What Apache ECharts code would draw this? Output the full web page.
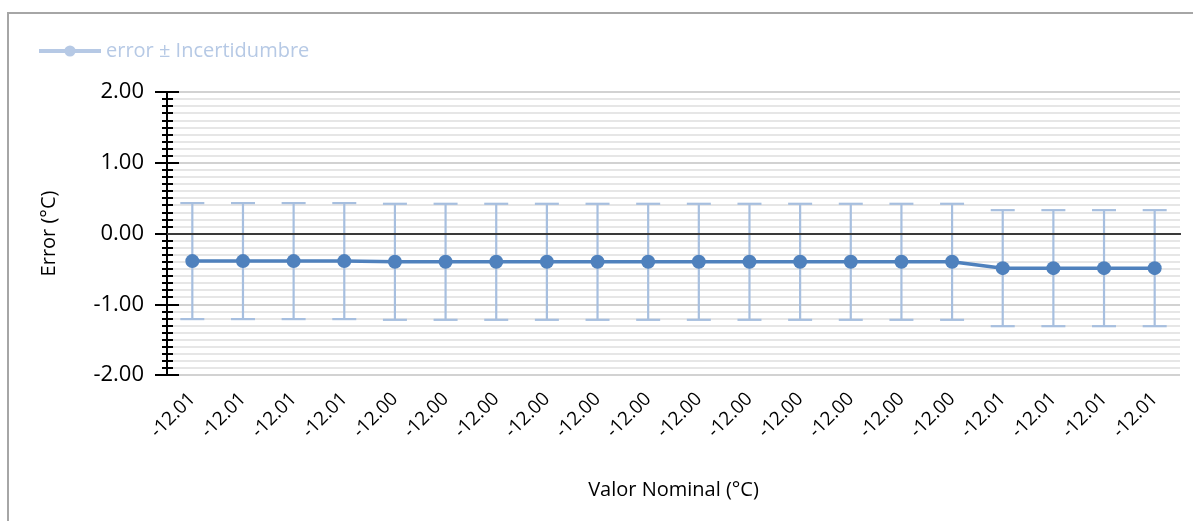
<!DOCTYPE html>
<html>
<head>
<meta charset="utf-8">
<script src="https://cdn.jsdelivr.net/npm/echarts@6/dist/echarts.min.js"></script>
<style>
  html, body {
    margin: 0;
    padding: 0;
    background: #fff;
  }

  #frame {
    position: absolute;
    left: 7px;
    top: 12px;
    width: 1200px;
    height: 520px;
    border-top: 2px solid #a6a6a6;
    border-left: 2px solid #a6a6a6;
  }

  #chart {
    position: absolute;
    left: 0;
    top: 0;
    width: 1193px;
    height: 521px;
  }
</style>
</head>
<body>
<div id="frame"></div>
<div id="chart"></div>
<script>
  // valores nominales (etiquetas del eje x)
  const categories = ['-12.01', '-12.01', '-12.01', '-12.01', '-12.00', '-12.00', '-12.00', '-12.00',
    '-12.00', '-12.00', '-12.00', '-12.00', '-12.00', '-12.00', '-12.00', '-12.00',
    '-12.01', '-12.01', '-12.01', '-12.01'];
  // error medido en cada punto
  const errors = [-0.39, -0.39, -0.39, -0.39, -0.40, -0.40, -0.40, -0.40,
    -0.40, -0.40, -0.40, -0.40, -0.40, -0.40, -0.40, -0.40,
    -0.49, -0.49, -0.49, -0.49];
  // incertidumbre (+/-)
  const uncert = [0.82, 0.82, 0.82, 0.82, 0.82, 0.82, 0.82, 0.82,
    0.82, 0.82, 0.82, 0.82, 0.82, 0.82, 0.82, 0.82,
    0.82, 0.82, 0.82, 0.82];
  const yTicks = [-2, -1, 0, 1, 2];

  const font = '"Open Sans", "Noto Sans", sans-serif';
  const barData = errors.map((v, i) => [i, v - uncert[i], v + uncert[i]]);

  const chart = echarts.init(document.getElementById('chart'));
  chart.setOption({
    animation: false,
    legend: {
      left: 32,
      top: 36,
      itemWidth: 62,
      itemHeight: 14,
      itemGap: 6,
      data: ['error ± Incertidumbre'],
      itemStyle: { color: '#b6c9e5' },
      lineStyle: { color: '#b6c9e5', width: 4 },
      textStyle: { color: '#b6c9e5', fontFamily: font, fontSize: 20 }
    },
    grid: {
      left: 167,
      top: 92,
      right: 13,
      bottom: 146
    },
    xAxis: [{
      type: 'category',
      data: categories,
      position: 'bottom',
      name: 'Valor Nominal (°C)',
      nameLocation: 'middle',
      nameGap: 105,
      nameTextStyle: { color: '#000', fontFamily: font, fontSize: 20 },
      axisLine: { lineStyle: { color: '#000', width: 2 } },
      axisTick: { alignWithLabel: true, length: 13, lineStyle: { color: '#000', width: 2 } },
      axisLabel: {
        rotate: 45,
        color: '#000',
        fontFamily: font,
        fontSize: 19,
        margin: 21,
        interval: 0
      },
      splitLine: { show: false }
    }, {
      type: 'category',
      data: categories,
      position: 'bottom',
      axisLine: { show: false },
      axisTick: { alignWithLabel: true, inside: true, length: 11, lineStyle: { color: '#000', width: 2 } },
      axisLabel: { show: false },
      splitLine: { show: false }
    }],
    yAxis: [{
      type: 'value',
      min: yTicks[0],
      max: yTicks[yTicks.length - 1],
      interval: 1,
      position: 'left',
      name: 'Error (°C)',
      nameLocation: 'middle',
      nameGap: 108,
      nameTextStyle: { color: '#000', fontFamily: font, fontSize: 20 },
      axisLine: { show: true, lineStyle: { color: '#000', width: 2 } },
      axisTick: { show: true, length: 12, lineStyle: { color: '#000', width: 2 } },
      minorTick: { show: true, splitNumber: 10, length: 5, lineStyle: { color: '#000', width: 2 } },
      axisLabel: {
        color: '#000',
        fontFamily: font,
        fontSize: 22,
        margin: 23,
        formatter: v => v.toFixed(2)
      },
      splitLine: { show: true, lineStyle: { color: '#d2d2d2', width: 2 } },
      minorSplitLine: { show: true, lineStyle: { color: '#e6e6e6', width: 2 } }
    }, {
      type: 'value',
      min: yTicks[0],
      max: yTicks[yTicks.length - 1],
      interval: 1,
      position: 'left',
      offset: 0,
      axisLine: { show: false },
      axisTick: { show: true, inside: true, length: 12, lineStyle: { color: '#000', width: 2 } },
      minorTick: { show: true, splitNumber: 10, length: 6, lineStyle: { color: '#000', width: 2 } },
      axisLabel: { show: false },
      splitLine: { show: false }
    }],
    series: [{
      type: 'custom',
      name: 'barras',
      z: 2,
      silent: true,
      data: barData,
      renderItem: (params, api) => {
        const x = api.value(0);
        const lo = api.coord([x, api.value(1)]);
        const hi = api.coord([x, api.value(2)]);
        const cap = 12;
        const style = { stroke: '#a7bfdf', lineWidth: 2.2 };
        return {
          type: 'group',
          children: [
            { type: 'line', shape: { x1: hi[0], y1: hi[1], x2: lo[0], y2: lo[1] }, style: style },
            { type: 'line', shape: { x1: hi[0] - cap, y1: hi[1], x2: hi[0] + cap, y2: hi[1] }, style: style },
            { type: 'line', shape: { x1: lo[0] - cap, y1: lo[1], x2: lo[0] + cap, y2: lo[1] }, style: style }
          ]
        };
      },
      encode: { x: 0, y: [1, 2] }
    }, {
      type: 'line',
      name: 'error ± Incertidumbre',
      z: 3,
      data: errors,
      symbol: 'circle',
      symbolSize: 14,
      lineStyle: { color: '#4f81bd', width: 3.5 },
      itemStyle: { color: '#4f81bd' },
      markLine: {
        silent: true,
        symbol: 'none',
        label: { show: false },
        lineStyle: { color: '#3a3a3a', width: 2, type: 'solid' },
        data: [{ yAxis: 0 }]
      }
    }]
  });
</script>
</body>
</html>
